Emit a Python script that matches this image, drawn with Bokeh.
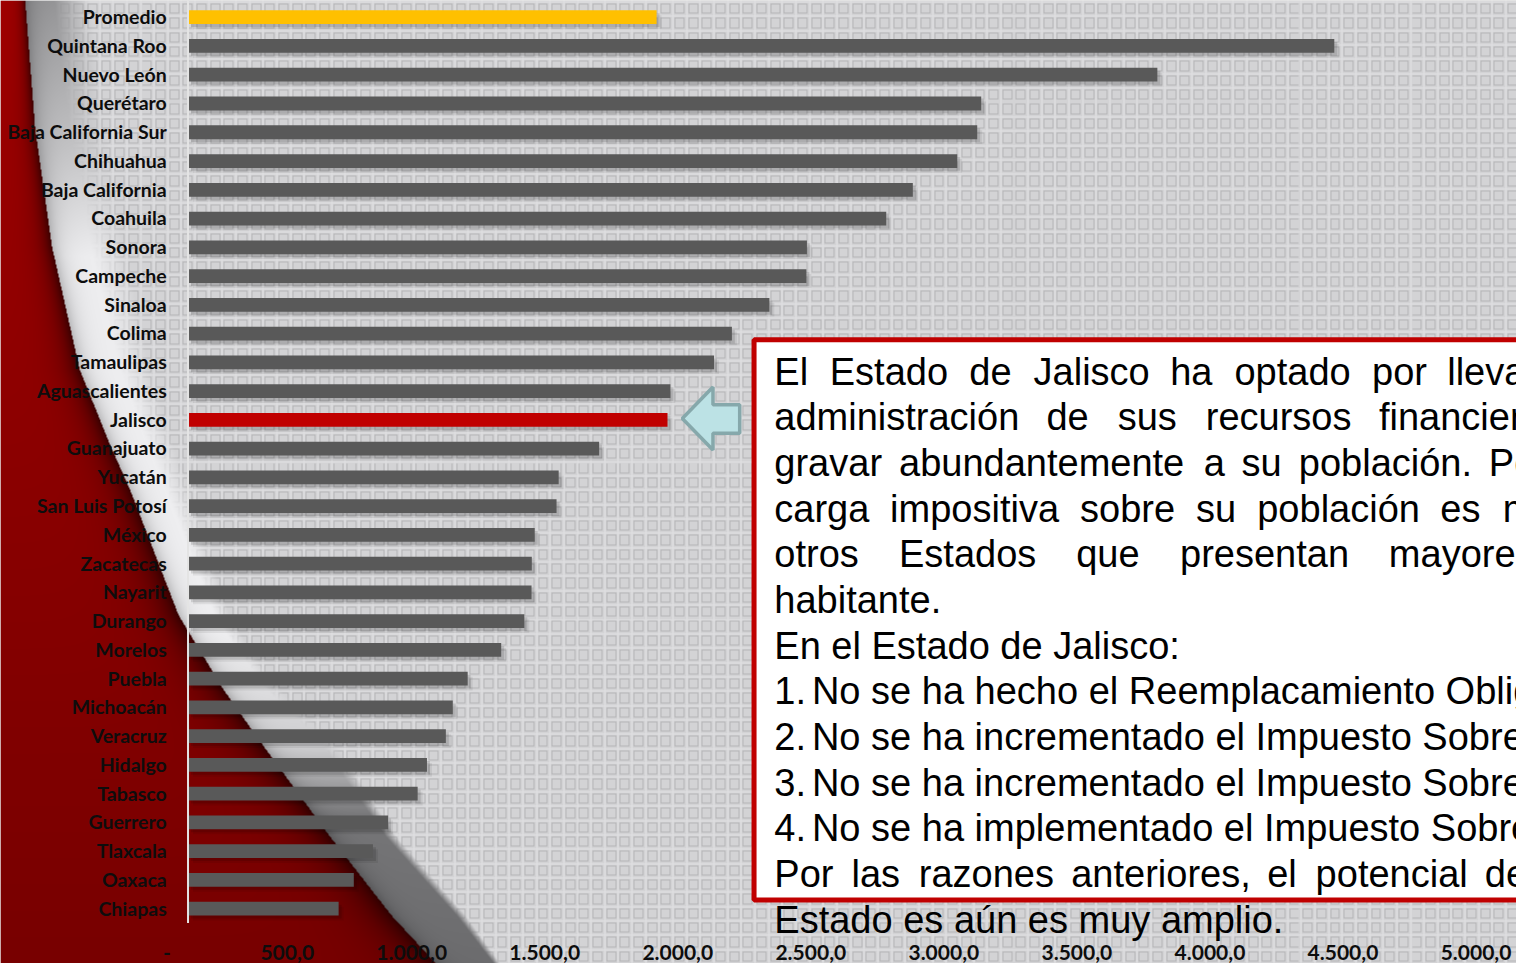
import numpy as np
from bokeh.plotting import figure
from bokeh.models import Range1d, ColumnDataSource, LabelSet
from bokeh.core.properties import value
from bokeh.embed import file_html
from bokeh.resources import INLINE

# ---------------- data ----------------
categories = ["Promedio", "Quintana Roo", "Nuevo León", "Querétaro", "Baja California Sur",
              "Chihuahua", "Baja California", "Coahuila", "Sonora", "Campeche", "Sinaloa",
              "Colima", "Tamaulipas", "Aguascalientes", "Jalisco", "Guanajuato", "Yucatán",
              "San Luis Potosí", "México", "Zacatecas", "Nayarit", "Durango", "Morelos",
              "Puebla", "Michoacán", "Veracruz", "Hidalgo", "Tabasco", "Guerrero", "Tlaxcala",
              "Oaxaca", "Chiapas"]
values = [1761, 4308, 3643, 2981, 2966, 2891, 2724, 2624, 2326, 2324, 2185, 2044, 1977, 1813,
          1802, 1545, 1393, 1385, 1303, 1292, 1291, 1264, 1177, 1051, 995, 969, 898, 863, 752,
          695, 623, 566]
tick_values = [0, 500, 1000, 1500, 2000, 2500, 3000, 3500, 4000, 4500, 5000]
tick_labels = ["-\u00a0\u00a0", "500,0", "1.000,0", "1.500,0", "2.000,0", "2.500,0", "3.000,0",
               "3.500,0", "4.000,0", "4.500,0", "5.000,0"]
highlight_colors = {"Promedio": "#FFC000", "Jalisco": "#C00000"}
bar_color = "#595959"

# ---------------- layout ----------------
# the slide is laid out in a 1532 x 979 coordinate space, drawn into a 1516 x 963 canvas
W, H = 1516, 963
SW, SH = 1532.0, 979.0
SX, SY = W / SW, H / SH
ZERO_X = 189.5         # slide x of value 0
PX_PER_UNIT = 0.26889  # slide px per unit of value
FIRST_Y = 17.0         # slide y of first category
ROW_PX = 29.236        # slide px between categories
BAR_H = 14.0 / ROW_PX

n = len(categories)
pos = np.arange(n)[::-1].astype(float)


def ypos(Y):
    return (n - 1) - (Y - FIRST_Y) / ROW_PX


def sy(Y):
    return SH - Y


p = figure(width=W, height=H,
           x_range=Range1d(-ZERO_X / PX_PER_UNIT, (SW - ZERO_X) / PX_PER_UNIT),
           y_range=Range1d(ypos(SH), ypos(0)),
           output_backend="svg", toolbar_location=None, min_border=0,
           x_axis_location=None, y_axis_location=None)
p.outline_line_color = None
p.background_fill_color = "#d4d4d4"
p.border_fill_color = "#d4d4d4"
p.extra_x_ranges = {"px": Range1d(0, SW)}
p.extra_y_ranges = {"py": Range1d(0, SH)}

# ---------------- slide background (pattern + swoosh) ----------------
Xc = (np.arange(W) + 0.5) / SX
Yc = (np.arange(H) + 0.5) / SY
XX, YY = np.meshgrid(Xc, Yc)

u = np.mod(XX - 3.0, 13.8)
v = np.mod(YY - 1.0, 14.6)
pat = np.full(XX.shape, 211.0)
inside = (u >= 2) & (u < 12) & (v >= 2) & (v < 12.5)
edge = inside & ((u < 3) | (u >= 11) | (v < 3) | (v >= 11.5))
pat[edge] = 181.0
pat[(u < 1.0) | (v < 1.0)] = 225.0

sw_y = [0, 130, 250, 375, 450, 500, 625, 650, 700, 750, 850, 930, 979]
sw_red = [25, 35, 52, 80, 110, 132, 180, 195, 225, 260, 333, 395, 440]
sw_out = [90, 105, 127, 152, 175, 192, 232, 247, 282, 335, 400, 470, 505]
Rr = np.interp(YY, sw_y, sw_red)
Go = np.interp(YY, sw_y, sw_out)
d = XX - Rr
t = d / (Go - Rr)

red_lvl = np.interp(YY, [0, 500, 979], [160, 138, 120])
ws = 5 + 22 * YY / 979
red_r = red_lvl * (1 - 0.6 * np.exp(np.minimum(d, 0) / ws))

band = np.interp(YY, [0, 150, 260, 640, 760, 830, 979], [150, 196, 238, 240, 205, 118, 108])
band = band * (1 - 0.22 * np.exp(-np.maximum(d, 0) / 9))
fade = np.interp(YY, [0, 500, 750, 979], [0.55, 0.4, 0.2, 0.1])
a = np.clip((1 - t) / fade, 0, 1)
gray = band * a + pat * (1 - a)

is_red = d < 0
rgba = np.empty((H, W, 4), dtype=np.uint8)
rgba[..., 0] = np.clip(np.where(is_red, red_r, gray), 0, 255)
rgba[..., 1] = np.clip(np.where(is_red, 0, gray), 0, 255)
rgba[..., 2] = np.clip(np.where(is_red, 0, gray + 2), 0, 255)
rgba[..., 3] = 255
img = np.ascontiguousarray(rgba.view(np.uint32).reshape(H, W)[::-1])
p.image_rgba(image=[img], x=0, y=0, dw=SW, dh=SH, x_range_name="px", y_range_name="py")

# ---------------- bars ----------------
vals = np.array(values, dtype=float)
colors = [highlight_colors.get(c, bar_color) for c in categories]
src = ColumnDataSource(dict(pos=pos, val=vals, cat=categories, color=colors))

for off, alpha in ((5.0, 0.07), (3.0, 0.12)):
    shadow = ColumnDataSource(dict(y=pos - off / ROW_PX,
                                   left=np.full(n, off / PX_PER_UNIT),
                                   right=vals + off / PX_PER_UNIT))
    p.hbar(y="y", left="left", right="right", height=BAR_H, source=shadow,
           fill_color="black", fill_alpha=alpha, line_color=None)

p.hbar(y="pos", left=0, right="val", height=BAR_H, source=src,
       fill_color="color", line_color=None)

# axis line
p.segment(x0=0, y0=-0.5, x1=0, y1=ypos(0), line_color="#e4e4e4", line_width=2)

# category labels
p.add_layout(LabelSet(x=0, y="pos", text="cat", source=src, x_offset=-21.3, y_offset=-6.9,
                      text_align="right", text_baseline="alphabetic", text_font=value("Lato"),
                      text_font_style="bold", text_font_size="19.5px", text_color="#0d0d0d"))

# value axis labels
tsrc = ColumnDataSource(dict(tick=tick_values, label=tick_labels))
p.add_layout(LabelSet(x="tick", y=ypos(975), text="label", source=tsrc, x_offset=-7,
                      text_align="right", text_baseline="alphabetic",
                      text_font=value("Lato"), text_font_style="bold",
                      text_font_size="21px", text_color="#0d0d0d"))

# ---------------- arrow + text box ----------------
arrow_x = [689, 720, 720, 747, 747, 720, 720]
arrow_y = [425, 393, 411, 411, 440, 440, 457]
p.patch(x=arrow_x, y=[sy(v_) for v_ in arrow_y], x_range_name="px", y_range_name="py",
        fill_color="#bce2e5", line_color="#86a8ab", line_width=3.5)

p.quad(left=761.5, right=1600, top=sy(345), bottom=sy(914.5), x_range_name="px",
       y_range_name="py", fill_color="white", line_color="#c00000", line_width=5)

rows = [
    [(782, "El"), (838, "Estado"), (979, "de"), (1044, "Jalisco"), (1182, "ha"),
     (1247, "optado"), (1386, "por"), (1462, "llevar")],
    [(782, "administración"), (1057, "de"), (1129, "sus"), (1218, "recursos"),
     (1393, "financieros")],
    [(782, "gravar"), (908, "abundantemente"), (1216, "a"), (1254, "su"),
     (1312, "población."), (1504, "Por")],
    [(782, "carga"), (899, "impositiva"), (1091, "sobre"), (1208, "su"), (1270, "población"),
     (1455, "es"), (1518, "menor")],
    [(782, "otros"), (908, "Estados"), (1087, "que"), (1192, "presentan"), (1403, "mayores")],
    [(782, "habitante.")],
    [(782, "En el Estado de Jalisco:")],
    [(782, "1."), (820, "No se ha hecho el Reemplacamiento Obligatorio")],
    [(782, "2."), (820, "No se ha incrementado el Impuesto Sobre")],
    [(782, "3."), (820, "No se ha incrementado el Impuesto Sobre")],
    [(782, "4."), (820, "No se ha implementado el Impuesto Sobre")],
    [(782, "Por"), (860, "las"), (928, "razones"), (1082, "anteriores,"), (1280, "el"),
     (1329, "potencial"), (1500, "de")],
    [(782, "Estado es aún es muy amplio.")],
]
BASE1, LINE = 390.7, 46.42
tx, ty, tt = [], [], []
for i, row in enumerate(rows):
    for x_, word in row:
        tx.append(x_)
        ty.append(sy(BASE1 + i * LINE))
        tt.append(word)
box_src = ColumnDataSource(dict(x=tx, y=ty, text=tt))
p.add_layout(LabelSet(x="x", y="y", text="text", source=box_src, x_range_name="px",
                      y_range_name="py", text_align="left", text_baseline="alphabetic",
                      text_font=value("Liberation Sans"), text_font_size="38px",
                      text_color="black"))

open("out.html", "w").write(file_html(p, INLINE))
